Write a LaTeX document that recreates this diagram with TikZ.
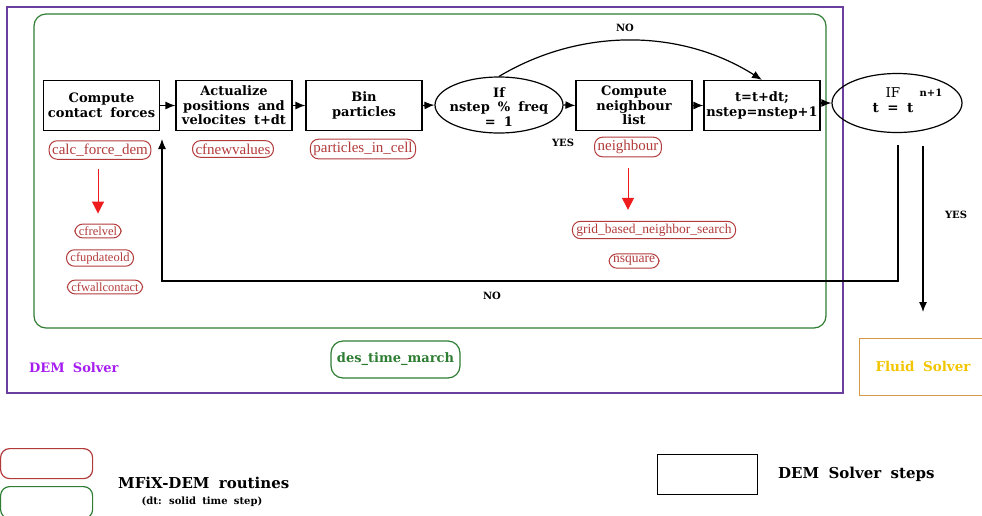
\documentclass[tikz,border=0pt]{standalone}
\usepackage{fontspec}
\setmainfont{Liberation Serif}
\newfontfamily\stepfont{DejaVu Serif}[WordSpace=1.8]
\usetikzlibrary{shapes.geometric,arrows.meta}
\definecolor{routred}{HTML}{B23A3A}
\definecolor{arrred}{HTML}{EE1C1C}
\definecolor{grn}{HTML}{2E7D32}
\definecolor{purp}{HTML}{6B3FA0}
\definecolor{dempurp}{HTML}{A61CF0}
\definecolor{fluidorange}{HTML}{D49A4A}
\definecolor{fluidyellow}{HTML}{F2C500}
\tikzset{
  stepbox/.style={draw, line width=1.2pt, minimum width=116pt, minimum height=50pt, inner sep=1pt, align=center, font=\stepfont\bfseries\fontsize{13}{14.5}\selectfont},
  steptext/.style={align=center, inner sep=0pt, font=\stepfont\bfseries\fontsize{13}{14.5}\selectfont},
  cond/.style={ellipse, draw, line width=1.2pt, inner sep=0pt},
  routine/.style={draw=routred, text=routred, rounded corners=8pt, line width=1pt, inner sep=3pt, font=\fontsize{15}{16}\selectfont},
  smallroutine/.style={routine, inner xsep=4pt, inner ysep=2.5pt, font=\fontsize{12.5}{14}\selectfont},
  flow/.style={-{Latex[length=10pt,width=8pt]}, line width=1.2pt},
  redflow/.style={arrred, line width=1pt, -{Triangle[length=12pt,width=12pt]}},
  lbl/.style={inner sep=0pt, font=\stepfont\bfseries\fontsize{10}{11}\selectfont},
  legtext/.style={inner sep=0pt, font=\stepfont\bfseries\fontsize{15}{16}\selectfont}
}
\begin{document}
\begin{tikzpicture}[x=1pt,y=-1pt]
\useasboundingbox (0,0) rectangle (982,515);
% frames
\draw[purp, line width=1.5pt] (7,7) rectangle (843,393);
\draw[grn, line width=1.2pt, rounded corners=12pt] (34,14) rectangle (826,328);
% steps
\node[stepbox] (b1) at (101.5,105.5) {Compute\\contact forces};
\node[stepbox] (b2) at (234,105.5) {Actualize\\positions and\\velocites t+dt};
\node[stepbox] (b3) at (364,105.5) {Bin\\particles};
\node[cond, minimum width=128pt, minimum height=56pt] (e1) at (499,105) {};
\node[steptext] (e1t) at (499,107) {If\\nstep \% freq\\= 1};
\node[stepbox] (b4) at (634,105.5) {Compute\\neighbour\\list};
\node[stepbox] (b5) at (762,105.5) {t=t+dt;\\nstep=nstep+1};
\node[cond, minimum width=130pt, minimum height=59pt] (e2) at (897,103) {};
\node[steptext, font=\stepfont\bfseries\fontsize{13.5}{15}\selectfont] (e2t) at (893,100) {\mdseries IF\\\bfseries t = t};
\node[lbl] (e2s) at (931,93) {n+1};
% flow arrows
\draw[flow] (b1.east) -- (b2.west);
\draw[flow] (b2.east) -- (b3.west);
\draw[flow] (b3.east) -- (e1.west);
\draw[flow] (e1.east) -- (b4.west);
\draw[flow] (b4.east) -- (b5.west);
\draw[flow] (b5.east |- e2.west) -- (e2.west);
\draw[flow] (e1.north) .. controls (580,28) and (680,28) .. (b5.north);
\node[lbl] (no1) at (625,28) {NO};
\node[lbl] (yes1) at (563,143) {YES};
% return loop
\coordinate (loopstart) at (898,145);
\coordinate (loopcorner) at (162,281);
\coordinate (loopend) at (162,139);
\draw[flow] (loopstart) |- (loopcorner) -- (loopend);
\node[lbl] (no2) at (492,296) {NO};
% yes to fluid
\coordinate (yesstart) at (923,146);
\coordinate (yesend) at (923,312);
\draw[flow] (yesstart) -- (yesend);
\node[lbl] (yes2) at (956,215) {YES};
% routines
\node[routine] (calc) at (100,150) {calc\_force\_dem};
\node[routine] (cfnew) at (233,149) {cfnewvalues};
\node[routine] (pic) at (363,149) {particles\_in\_cell};
\node[routine] (neigh) at (628,147) {neighbour};
\node[smallroutine] (cfrelvel) at (98,231) {cfrelvel};
\node[smallroutine] (cfupd) at (100,258) {cfupdateold};
\node[smallroutine] (cfwall) at (105,287) {cfwallcontact};
\node[smallroutine, font=\fontsize{13.5}{15}\selectfont] (grid) at (654,230) {grid\_based\_neighbor\_search};
\node[smallroutine, font=\fontsize{13.5}{15}\selectfont] (nsq) at (634,261) {nsquare};
\draw[redflow] ([yshift=-9pt]calc.south -| cfrelvel.north) -- ([yshift=10pt]cfrelvel.north);
\draw[redflow] ([yshift=-11pt]neigh.south) -- ([yshift=11pt]neigh.south |- grid.north);
% des_time_march
\node[draw=grn, text=grn, rounded corners=12pt, line width=1.2pt, minimum width=129pt, minimum height=37pt, font=\stepfont\bfseries\fontsize{13}{15}\selectfont] (dtm) at (395.5,359.5) {des\_time\_march};
\node[text=dempurp, inner sep=0pt, font=\stepfont\bfseries\fontsize{13}{15}\selectfont, anchor=west] (dem) at (29,368) {DEM Solver};
% fluid solver
\node[draw=fluidorange, line width=1.2pt, minimum width=134pt, minimum height=57pt, anchor=north west, inner sep=0pt] (fluid) at (859,338) {};
\node[text=fluidyellow, inner sep=0pt, font=\stepfont\bfseries\fontsize{13.5}{15}\selectfont] (fluidt) at (923,366) {Fluid Solver};
% legend
\node[draw=routred, rounded corners=9pt, line width=1.2pt, minimum width=92pt, minimum height=30pt, anchor=north west, inner sep=0pt] (legred) at (0,448) {};
\node[draw=grn, rounded corners=9pt, line width=1.2pt, minimum width=92pt, minimum height=32pt, anchor=north west, inner sep=0pt] (leggrn) at (0,486) {};
\node[legtext, anchor=west] (legt1) at (118,483) {MFiX-DEM routines};
\node[lbl, font=\stepfont\bfseries\fontsize{10}{11}\selectfont] (legt2) at (202,502) {(dt: solid time step)};
\node[draw, line width=1.2pt, minimum width=100pt, minimum height=40pt, anchor=north west, inner sep=0pt] (legbox) at (657,454) {};
\node[legtext, anchor=west] (legt3) at (778,474) {DEM Solver steps};
\end{tikzpicture}
\end{document}
